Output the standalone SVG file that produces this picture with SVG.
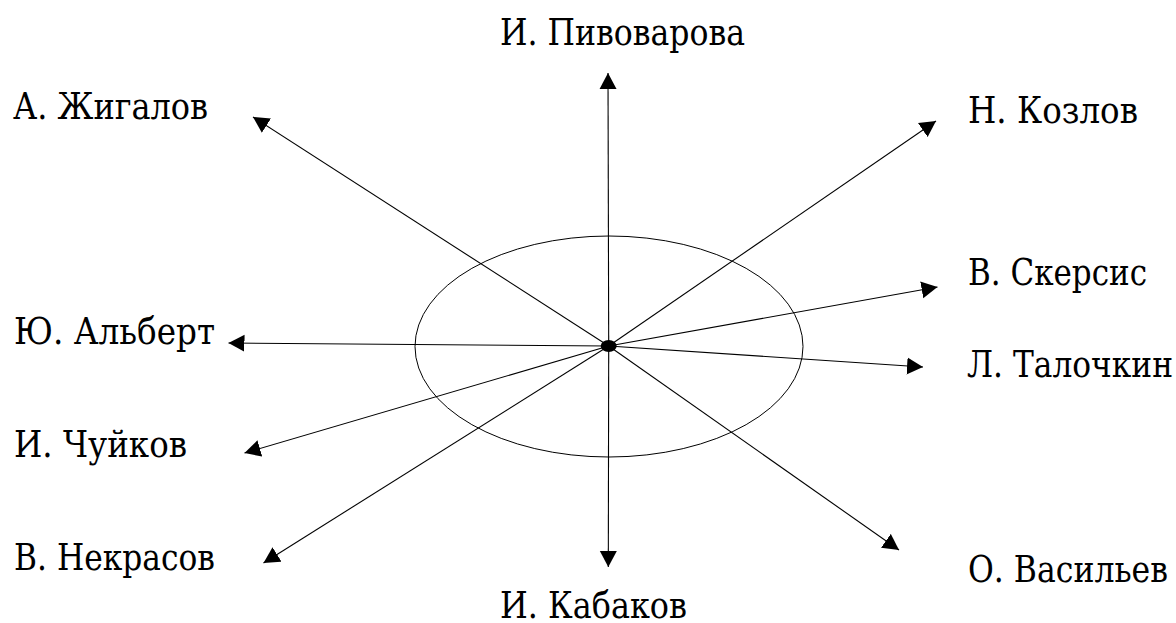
<svg xmlns="http://www.w3.org/2000/svg" width="1176" height="623" viewBox="0 0 1176 623">
<style>
.t{font-family:'DejaVu Serif','Liberation Serif',serif;font-size:31px;fill:#000}
.c{stroke:#000;stroke-width:1.1;fill:none}
</style>
<defs>
<marker id="ah" markerUnits="userSpaceOnUse" markerWidth="17" markerHeight="18" refX="16" refY="8.5" orient="auto" viewBox="0 0 17 17">
<path d="M0,0 L16,8.5 L0,17 z" fill="#000"/>
</marker>
</defs>
<g id="ring">
<ellipse cx="609" cy="346.5" rx="194" ry="110.5" fill="none" stroke="#000" stroke-width="1"/>
</g>
<g id="connectors">
<line class="c" x1="608.7" y1="346" x2="608" y2="73" marker-end="url(#ah)"/>
<line class="c" x1="608.7" y1="346" x2="253" y2="117" marker-end="url(#ah)"/>
<line class="c" x1="608.7" y1="346" x2="936" y2="121" marker-end="url(#ah)"/>
<line class="c" x1="608.7" y1="346" x2="937.5" y2="287" marker-end="url(#ah)"/>
<line class="c" x1="608.7" y1="346" x2="923" y2="367" marker-end="url(#ah)"/>
<line class="c" x1="608.7" y1="346" x2="228.5" y2="343" marker-end="url(#ah)"/>
<line class="c" x1="608.7" y1="346" x2="244.5" y2="453" marker-end="url(#ah)"/>
<line class="c" x1="608.7" y1="346" x2="263.5" y2="563" marker-end="url(#ah)"/>
<line class="c" x1="608.7" y1="346" x2="608.3" y2="567" marker-end="url(#ah)"/>
<line class="c" x1="608.7" y1="346" x2="899" y2="550" marker-end="url(#ah)"/>
</g>
<g id="center">
<ellipse cx="608.7" cy="346" rx="8" ry="6" fill="#000"/>
</g>
<g id="n-pivovarova"><text class="t" transform="translate(500,45) scale(1,1.22)" textLength="245" lengthAdjust="spacingAndGlyphs">И. Пивоварова</text></g>
<g id="n-zhigalov"><text class="t" transform="translate(13,119) scale(1,1.22)" textLength="195" lengthAdjust="spacingAndGlyphs">А. Жигалов</text></g>
<g id="n-kozlov"><text class="t" transform="translate(968,123) scale(1,1.22)" textLength="170" lengthAdjust="spacingAndGlyphs">Н. Козлов</text></g>
<g id="n-skersis"><text class="t" transform="translate(968,285) scale(1,1.22)" textLength="179" lengthAdjust="spacingAndGlyphs">В. Скерсис</text></g>
<g id="n-talochkin"><text class="t" transform="translate(967,377) scale(1,1.22)" textLength="206" lengthAdjust="spacingAndGlyphs">Л. Талочкин</text></g>
<g id="n-albert"><text class="t" transform="translate(14,344) scale(1,1.22)" textLength="201" lengthAdjust="spacingAndGlyphs">Ю. Альберт</text></g>
<g id="n-chuikov"><text class="t" transform="translate(14,457) scale(1,1.22)" textLength="173" lengthAdjust="spacingAndGlyphs">И. Чуйков</text></g>
<g id="n-nekrasov"><text class="t" transform="translate(14,570) scale(1,1.22)" textLength="201" lengthAdjust="spacingAndGlyphs">В. Некрасов</text></g>
<g id="n-kabakov"><text class="t" transform="translate(500,618) scale(1,1.22)" textLength="187" lengthAdjust="spacingAndGlyphs">И. Кабаков</text></g>
<g id="n-vasiliev"><text class="t" transform="translate(968,582) scale(1,1.22)" textLength="200" lengthAdjust="spacingAndGlyphs">О. Васильев</text></g>
</svg>
